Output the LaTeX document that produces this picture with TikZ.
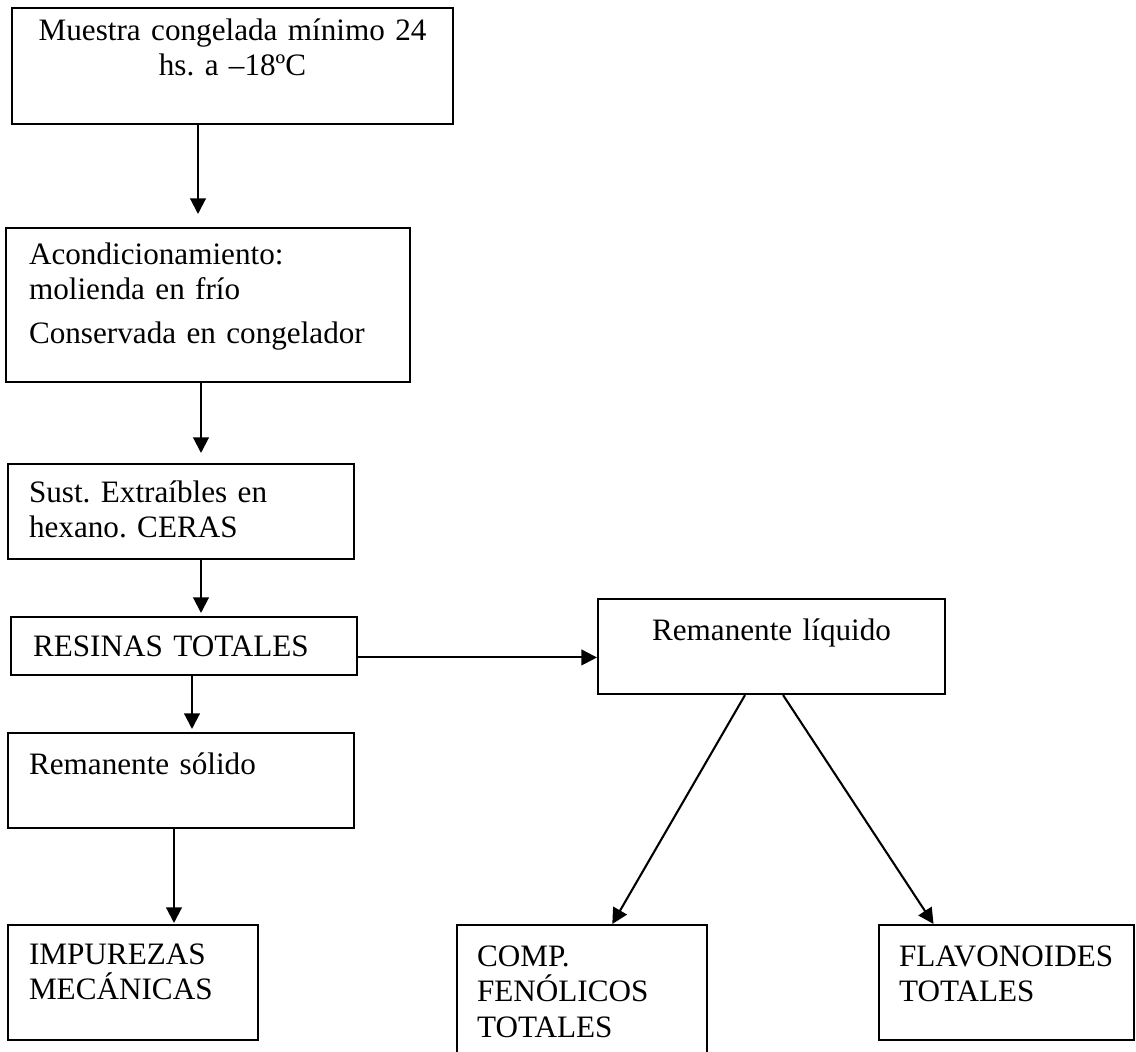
\documentclass[tikz,border=0pt]{standalone}
\usepackage{fontspec}
\setmainfont{Liberation Serif}
\usepackage{tikz}
\usetikzlibrary{arrows.meta,calc}

\def\px{0.385pt}
\tikzset{
  stage/.style n args={4}{draw, line width=0.8pt, anchor=north west, align=left,
    inner ysep=0pt, inner xsep=#2*\px, minimum width=#1*\px,
    text width=(#1-2*#2)*\px, text height=#3*\px, text depth=(#4-#3)*\px},
  flow/.style={line width=0.8pt, -{Triangle[length=6pt,width=6pt]}}
}

\begin{document}
\frenchspacing
\begin{tikzpicture}[x=\px, y=-\px, font=\fontsize{12}{13.8}\selectfont]
    \useasboundingbox (0,0) rectangle (1136,1052);
    \clip (0,0) rectangle (1136,1052);
    % Main column
    \node[stage={441}{10}{32}{116}, align=center] (muestra) at (11,7)
      {Muestra congelada mínimo 24\\hs. a –18ºC};
    \node[stage={404}{23}{36}{154}] (acond) at (5,227)
      {Acondicionamiento:\\molienda en frío\\[3pt]Conservada en congelador};
    \node[stage={346}{21}{38}{95}] (sust) at (7,463)
      {Sust. Extraíbles en\\hexano. CERAS};
    \node[stage={346}{22}{39}{58}] (resinas) at (10,616) {RESINAS TOTALES};
    \node[stage={346}{21}{41}{95}] (solido) at (7,732) {Remanente sólido};
    \node[stage={250}{21}{39}{115}] (impurezas) at (7,924)
      {IMPUREZAS\\MECÁNICAS};
    % Liquid branch
    \node[stage={347}{10}{41}{95}, align=center] (liquido) at (597,598)
      {Remanente líquido};
    \node[stage={250}{20}{41}{160}] (comp) at (456,924)
      {COMP.\\FENÓLICOS\\TOTALES};
    \node[stage={255}{20}{41}{115}] (flav) at (878,924)
      {FLAVONOIDES\\TOTALES};
    % Draw vertical arrows
    \foreach \a/\b/\x/\g in {muestra/acond/198/13, acond/sust/201/10,
                             sust/resinas/201/3, resinas/solido/192/3,
                             solido/impurezas/174/1} {
      \draw[flow, shorten >=\g*\px] (\a.south -| \x,0) -- (\b.north -| \x,0);
    }
    % Draw branch arrows
    \coordinate (r) at ($(resinas.south east)!0.31!(resinas.north east)$);
    \draw[flow] (r) -- (liquido.west |- r);
    \draw[flow] ($(liquido.south west)!0.424!(liquido.south east)$)
      -- ($(comp.north west)!0.62!(comp.north east)$);
    \draw[flow] ($(liquido.south west)!0.533!(liquido.south east)$)
      -- ($(flav.north west)!0.216!(flav.north east)$);
\end{tikzpicture}
\end{document}
